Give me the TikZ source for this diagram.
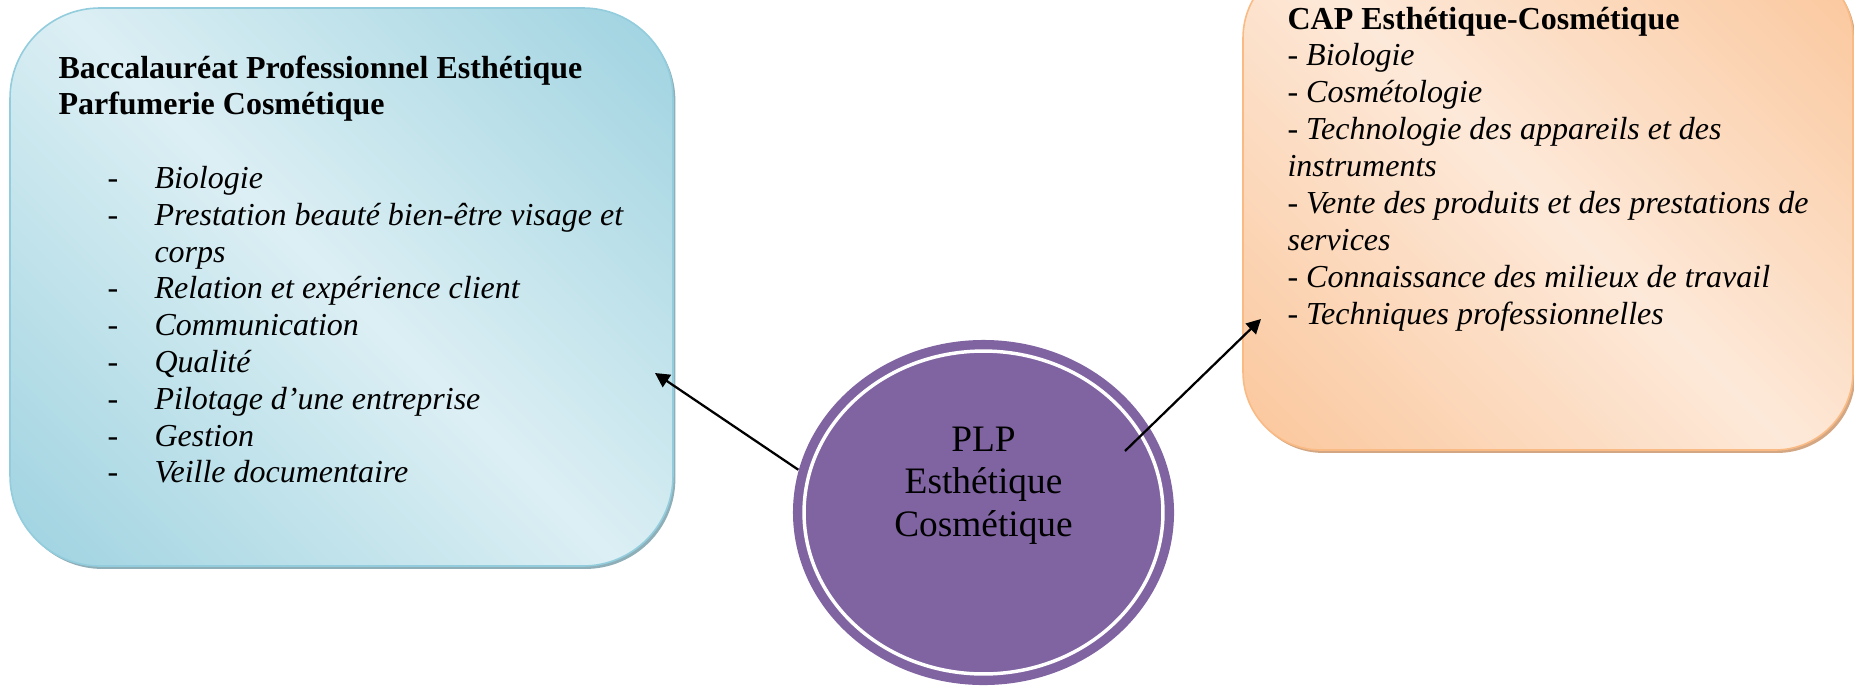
\documentclass[tikz,border=0pt]{standalone}
\usepackage{fontspec}
\setmainfont{Liberation Serif}
\usetikzlibrary{arrows.meta,shadows,shapes.geometric}
\definecolor{bacdark}{HTML}{92CDDC}
\definecolor{baclight}{HTML}{DCEFF4}
\definecolor{bacline}{HTML}{93CDDD}
\definecolor{bacshadow}{HTML}{8EAEB8}
\definecolor{capdark}{HTML}{FAC090}
\definecolor{caplight}{HTML}{FDE9D9}
\definecolor{capline}{HTML}{F9BA84}
\definecolor{capshadow}{HTML}{D3A783}
\definecolor{plpfill}{HTML}{8064A2}
\pgfdeclareverticalshading{bacfade}{100bp}{color(0bp)=(bacdark); color(8bp)=(bacdark);
  color(50bp)=(baclight); color(92bp)=(bacdark); color(100bp)=(bacdark)}
\pgfdeclareverticalshading{capfade}{100bp}{color(0bp)=(capdark); color(8bp)=(capdark);
  color(50bp)=(caplight); color(92bp)=(capdark); color(100bp)=(capdark)}
\newcommand{\bacitem}[1]{\hspace*{18.4pt}\makebox[17.6pt][l]{-}\textit{#1}}
\begin{document}
\begin{tikzpicture}[x=0.375pt,y=-0.375pt,
  bacbox/.style={draw=bacline, line width=0.6pt, rounded corners=33.75pt,
    shading=bacfade, shading angle=-45,
    general shadow={fill=bacshadow, shadow xshift=0.9pt, shadow yshift=-1.1pt},
    minimum width=248.6pt, minimum height=209.25pt, inner sep=0pt},
  capbox/.style={draw=capline, line width=0.6pt, rounded corners=29.25pt,
    shading=capfade, shading angle=-45,
    general shadow={fill=capshadow, shadow xshift=0.9pt, shadow yshift=-1.1pt},
    minimum width=228.75pt, minimum height=183.75pt, inner sep=0pt},
  listtext/.style={anchor=base west, inner sep=0pt, font=\fontsize{12}{#1}\selectfont},
  connector/.style={draw=black, line width=0.85pt, -{Triangle[length=5.4pt, width=5.5pt]}}]
\useasboundingbox (0,0) rectangle (1854,686);
% boxes
\node [bacbox] (bac) at (341.5,287) {};
\node [capbox] (cap) at (1548,205) {};
% centre
\node [ellipse, fill=plpfill, minimum width=142.9pt, minimum height=129.4pt, inner sep=0pt] (plp) at (983.5,512.5) {};
\node [ellipse, draw=white, line width=1.3pt, minimum width=134.6pt, minimum height=121.1pt, inner sep=0pt] (plpring) at (plp.center) {};
\node [anchor=base, inner sep=0pt, font=\fontsize{14}{16.1}\selectfont] (plptext) at (983.5,451)
  {\begin{tabular}[t]{@{}c@{}}PLP\\ Esthétique\\ Cosmétique\end{tabular}};
% texts
\node [listtext=13.8] (bactext) at (58,78) {\begin{tabular}[t]{@{}l@{}}
\textbf{Baccalauréat Professionnel Esthétique}\\
\textbf{Parfumerie Cosmétique}\\
\\
\bacitem{Biologie}\\
\bacitem{Prestation beauté bien-être visage et}\\
\hspace*{36pt}\textit{corps}\\
\bacitem{Relation et expérience client}\\
\bacitem{Communication}\\
\bacitem{Qualité}\\
\bacitem{Pilotage d’une entreprise}\\
\bacitem{Gestion}\\
\bacitem{Veille documentaire}
\end{tabular}};
\node [listtext=13.85] (captext) at (1287,29) {\begin{tabular}[t]{@{}l@{}}
\textbf{CAP Esthétique-Cosmétique}\\
\textit{- Biologie}\\
\textit{- Cosmétologie}\\
\textit{- Technologie des appareils et des}\\
\textit{instruments}\\
\textit{- Vente des produits et des prestations de}\\
\textit{services}\\
\textit{- Connaissance des milieux de travail}\\
\textit{- Techniques professionnelles}
\end{tabular}};
% arrows
\coordinate (bactip) at (655,373);
\coordinate (capfoot) at (1125,451);
\coordinate (captip) at (1261,319);
\draw [connector] (plp.167) -- (bactip);
\draw [connector] (capfoot) -- (captip);
\end{tikzpicture}
\end{document}
